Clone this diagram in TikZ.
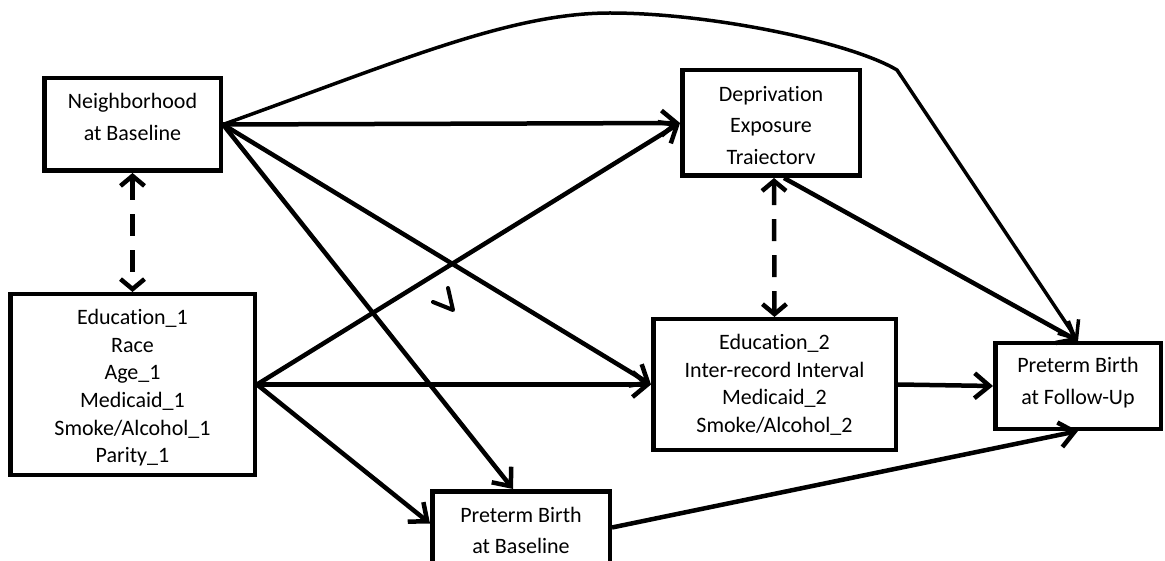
\documentclass[tikz,border=0pt]{standalone}
\usepackage{fontspec}
\setmainfont{Carlito}[Ligatures=NoCommon]
\usetikzlibrary{arrows.meta,positioning}

\begin{document}
\begin{tikzpicture}[
    x=1pt,y=-1pt,
    varbox/.style={draw=black,line width=4.5pt,inner sep=0pt},
    boxtext/.style={inner sep=0pt,align=center,font=\fontsize{22}{32}\selectfont},
    listtext/.style={boxtext,font=\fontsize{22}{27.7}\selectfont},
    arrow/.style={-{Straight Barb[length=15pt,width=25pt]},line width=4.5pt},
    dasharrow/.style={{Straight Barb[length=10pt,width=24pt]}-{Straight Barb[length=10pt,width=24pt]},
      line width=4.5pt,dash pattern=on 22pt off 14pt}
  ]
    \useasboundingbox (0,0) rectangle (1165,561);
    \clip (0,0) rectangle (1165,561);

    \node[varbox,minimum width=176.5pt,minimum height=92.5pt] (nbhd) at (132.5,124.5) {};
    \node[boxtext,below=17pt of nbhd.north] (nbhd-t) {Neighborhood\\at Baseline};
    \node[varbox,minimum width=177.5pt,minimum height=105.5pt] (traj) at (771,123) {};
    \node[boxtext,below=18pt of traj.north,font=\fontsize{22}{31.5}\selectfont] (traj-t) {Deprivation\\Exposure\\Traiectorv};
    \node[varbox,minimum width=244.5pt,minimum height=180.5pt] (cov1) at (132.5,384.5) {};
    \node[listtext,below=17pt of cov1.north] (cov1-t) {Education\_1\\Race\\Age\_1\\Medicaid\_1\\Smoke/Alcohol\_1\\Parity\_1};
    \node[varbox,minimum width=242.5pt,minimum height=130.5pt] (cov2) at (774.5,384.5) {};
    \node[listtext,below=17pt of cov2.north] (cov2-t) {Education\_2\\Inter-record Interval\\Medicaid\_2\\Smoke/Alcohol\_2};
    \node[varbox,minimum width=165.5pt,minimum height=85.5pt] (ptbf) at (1078,386) {};
    \node[boxtext,below=16pt of ptbf.north] (ptbf-t) {Preterm Birth\\at Follow-Up};
    \node[varbox,minimum width=177.5pt,minimum height=92.5pt] (ptbb) at (521,537.5) {};
    \node[boxtext,below=18pt of ptbb.north,font=\fontsize{22}{31}\selectfont] (ptbb-t) {Preterm Birth\\at Baseline};

    \coordinate (crest) at (610,13);
    \coordinate (bend) at (897,70);
    \coordinate (stray) at (453,310);

    \draw[arrow] (nbhd.east) -- (traj.west);
    \draw[arrow] (nbhd.east) -- (cov2.west);
    \draw[arrow] (nbhd.east) -- ([xshift=-8pt]ptbb.north);
    \draw[arrow,line width=3.5pt] (nbhd.east) .. controls (400,61) and (510,13) .. (crest)
      .. controls (710,13) and (850,42) .. (bend) -- (ptbf.north);
    \draw[arrow] (cov1.east) -- (traj.west);
    \draw[arrow] (cov1.east) -- (cov2.west);
    \draw[arrow] (cov1.east) -- ([yshift=14pt]ptbb.west);
    \draw[arrow] ([xshift=13pt]traj.south) -- (ptbf.north);
    \draw[arrow] (cov2.east) -- (ptbf.west);
    \draw[arrow] ([yshift=10pt]ptbb.east) -- (ptbf.south);
    \draw[dasharrow] (nbhd.south) -- (cov1.north);
    \draw[dasharrow] ([xshift=3pt]traj.south) -- (cov2.north);
    \draw[line width=4pt,line cap=round,line join=round] (stray) ++(-20,-8) -- (stray) -- ++(-5,-22);
  \end{tikzpicture}
\end{document}
